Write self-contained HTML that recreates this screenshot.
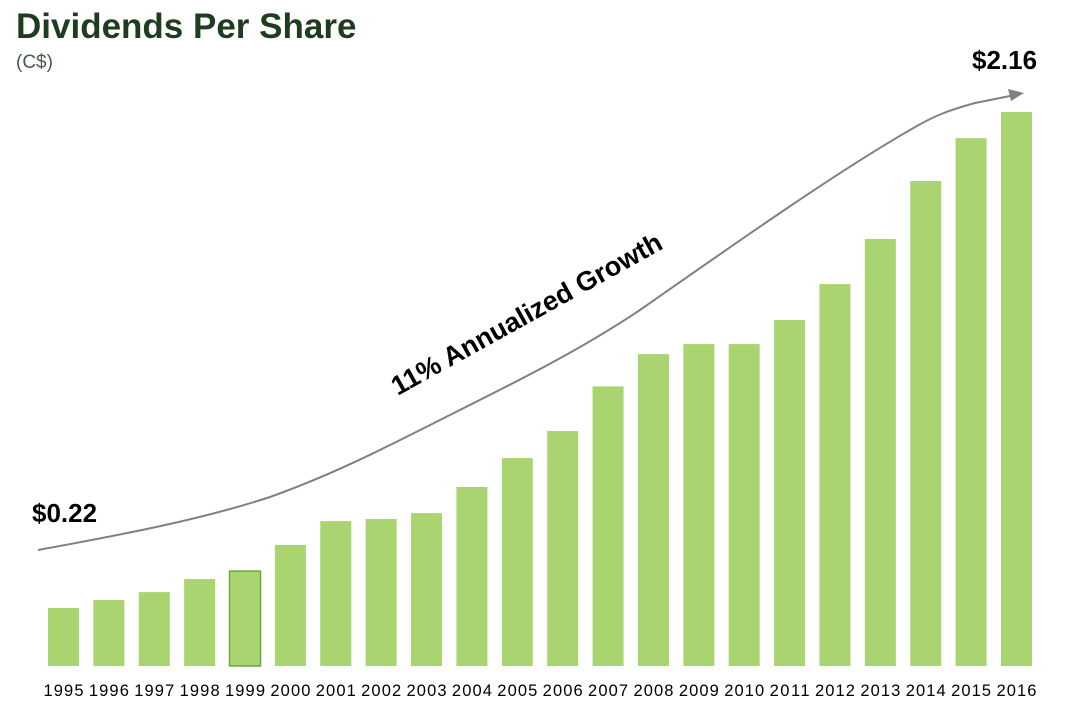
<!DOCTYPE html>
<html><head><meta charset="utf-8"><style>
body{margin:0;background:#fff;width:1066px;height:717px;overflow:hidden;font-family:"Liberation Sans",sans-serif}
</style></head><body>
<svg width="1066" height="717">
<text x="16" y="38" font-size="35" font-weight="bold" fill="#1e3d1e">Dividends Per Share</text>
<text x="16" y="68" font-size="19" fill="#4a5a4a">(C$)</text>
<g id="bars"></g><g id="labels"></g>
<path d="M38,550 C120,535 200,520 270,497 C340,472 400,440 450,415 C520,380 580,350 640,310 C740,240 840,170 910,130 C935,115 950,110 975,103 L1010,96" fill="none" stroke="#808080" stroke-width="2"/>
<polygon points="1024,93 1008,89 1011,101" fill="#808080"/>
<text x="531" y="322" font-size="27" font-weight="bold" text-anchor="middle" transform="rotate(-29 531 322)">11% Annualized Growth</text>
<text x="32" y="522" font-size="26" font-weight="bold">$0.22</text>
<text x="972" y="69" font-size="26" font-weight="bold">$2.16</text>
</svg>
<script>
const years=[1995,1996,1997,1998,1999,2000,2001,2002,2003,2004,2005,2006,2007,2008,2009,2010,2011,2012,2013,2014,2015,2016];
const dividends=[0.226,0.257,0.288,0.339,0.370,0.472,0.565,0.573,0.596,0.698,0.811,0.916,1.09,1.216,1.255,1.255,1.349,1.489,1.665,1.891,2.058,2.16];
const base=666,scale=256.5,x0=48,step=45.38,bw=31;
const y=v=>base-v*scale, x=i=>x0+i*step;
const ns="http://www.w3.org/2000/svg";
const gb=document.getElementById('bars'),gl=document.getElementById('labels');
years.forEach((yr,i)=>{
 const r=document.createElementNS(ns,'rect');
 r.setAttribute('x',x(i));r.setAttribute('y',y(dividends[i]));
 r.setAttribute('width',bw);r.setAttribute('height',base-y(dividends[i]));
 r.setAttribute('fill','#a9d46f');
 if(yr===1999){r.setAttribute('stroke','#6aa839');r.setAttribute('stroke-width','1.5');}
 
 
 gb.appendChild(r);
 const t=document.createElementNS(ns,'text');
 t.setAttribute('x',x(i)+bw/2);t.setAttribute('y',696);
 t.setAttribute('text-anchor','middle');t.setAttribute('font-size','16.5');
 t.setAttribute('textLength','40');
 t.textContent=yr;
 
 
 gl.appendChild(t);
});
</script>
</body></html>
